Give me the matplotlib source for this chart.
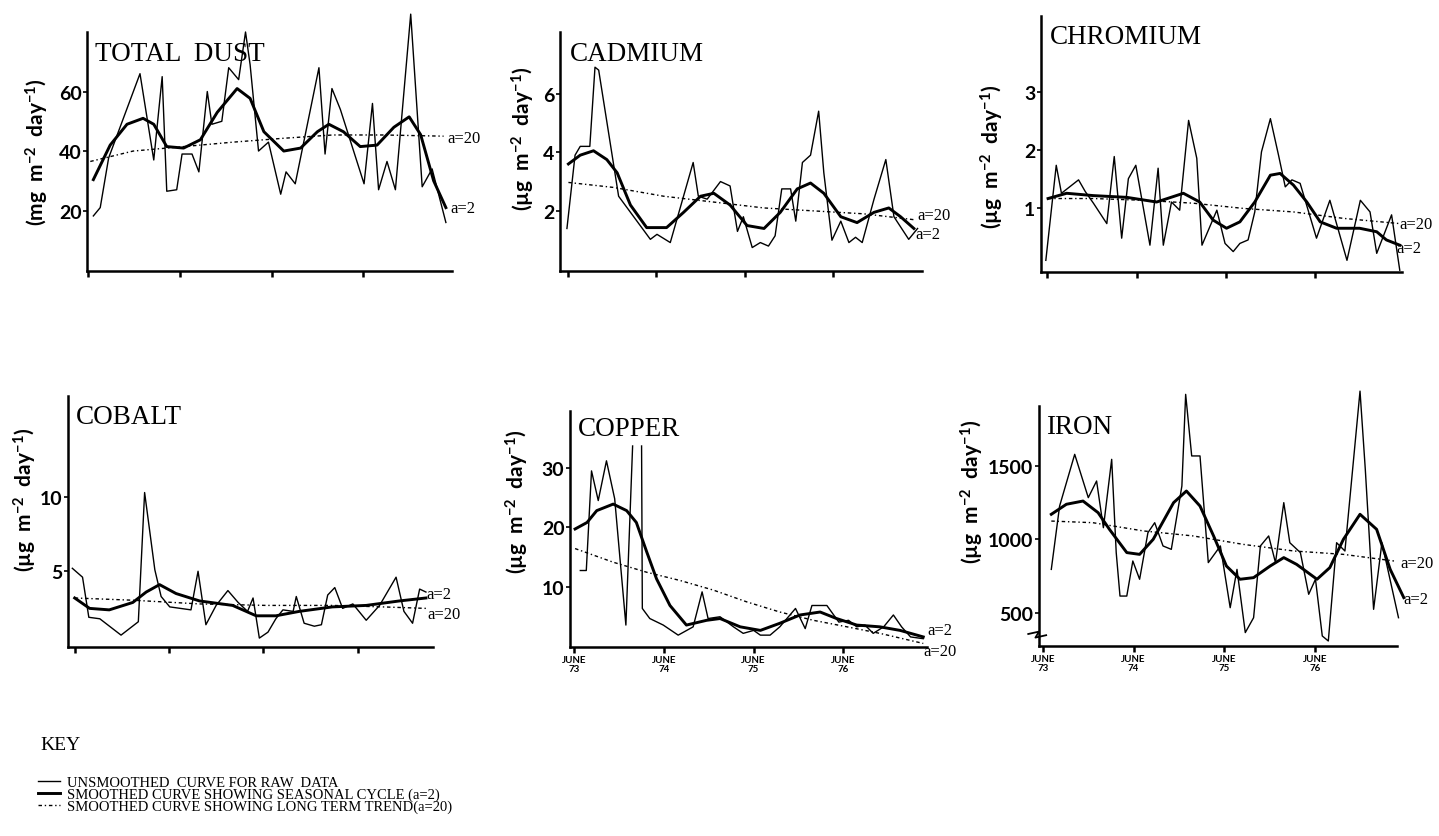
import numpy as np
import matplotlib
matplotlib.use("Agg")
import matplotlib.pyplot as plt
from matplotlib.lines import Line2D

plt.rcParams['font.family'] = ['Lato', 'DejaVu Sans']
plt.rcParams['mathtext.fontset'] = 'custom'
plt.rcParams['mathtext.rm'] = 'Lato:bold'
plt.rcParams['mathtext.it'] = 'Lato:bold'
plt.rcParams['mathtext.bf'] = 'Lato:bold'

# months after June 1973
# ---- TOTAL DUST (mg m-2 day-1)
dust_raw_m = [0.7, 1.6, 2.7, 6.8, 8.6, 9.7, 10.3, 11.6, 12.3, 13.6, 14.5, 15.6, 16.2, 17.5,
              18.4, 19.7, 20.6, 21.2, 22.3, 23.6, 25.2, 25.9, 27.1, 30.2, 31.0, 31.9, 33.0,
              36.1, 37.2, 38.0, 39.1, 40.2, 42.2, 43.7, 45.0, 46.8]
dust_raw = [18.2, 21, 37.7, 66, 37, 65, 26.5, 27, 39, 39, 33, 60, 49, 50,
            68, 64, 80, 69, 40, 43, 25.5, 33, 29, 68, 39, 61, 54,
            29, 56, 27, 36.5, 27, 86, 28, 34, 16]
dust_a2_m = [0.7, 2.9, 5.1, 7.2, 8.6, 10.3, 12.5, 14.7, 16.9, 19.5, 21.2, 23.0, 25.6, 27.8,
             30.0, 31.5, 33.4, 35.6, 37.8, 40.0, 42.0, 43.5, 45.2, 46.8]
dust_a2 = [30.4, 42, 49, 51, 49, 41.5, 41, 43.8, 53, 61, 57.7, 46.5, 40, 41,
           46.5, 49, 46.5, 41.5, 42, 48, 51.5, 45.5, 30, 21]
dust_a20_m = [0.3, 5.9, 12.5, 19.0, 25.6, 32.0, 38.7, 46.5]
dust_a20 = [36.5, 40, 41.5, 43, 44.3, 45.4, 45.4, 45]

# ---- CADMIUM (ug m-2 day-1)
cd_raw_m = [-0.1, 1.0, 1.7, 3.0, 3.7, 4.2, 6.9, 11.2, 12.1, 13.9, 17.0, 17.7, 18.9, 20.7,
            22.0, 23.0, 23.8, 25.0, 26.1, 27.2, 28.1, 29.0, 30.2, 30.9, 31.8, 32.9, 34.0,
            34.7, 35.8, 37.0, 38.1, 39.0, 39.9, 41.5, 43.1, 44.2, 46.2, 47.4]
cd_raw = [1.4, 3.9, 4.2, 4.2, 6.9, 6.8, 2.5, 1.03, 1.2, 0.92, 3.65, 2.5, 2.4, 3.0,
          2.85, 1.3, 1.8, 0.75, 0.92, 0.8, 1.15, 2.75, 2.75, 1.65, 3.65, 3.9, 5.4,
          3.3, 1.0, 1.65, 0.92, 1.1, 0.92, 2.4, 3.75, 1.8, 1.03, 1.4]
cd_a2_m = [0.1, 1.7, 3.5, 5.3, 6.7, 8.5, 10.7, 13.4, 15.7, 18.0, 19.8, 22.0, 24.3, 26.6,
           28.8, 31.1, 32.9, 34.7, 37.0, 39.2, 41.5, 43.5, 45.1, 46.9]
cd_a2 = [3.6, 3.9, 4.05, 3.75, 3.3, 2.2, 1.43, 1.43, 1.95, 2.5, 2.6, 2.2, 1.5, 1.4,
         1.95, 2.75, 2.95, 2.6, 1.8, 1.6, 1.95, 2.1, 1.8, 1.4]
cd_a20_m = [0.1, 6.2, 13.0, 19.8, 26.6, 33.3, 40.1, 46.9]
cd_a20 = [2.97, 2.8, 2.5, 2.3, 2.1, 2.0, 1.9, 1.7]

# ---- CHROMIUM
cr_raw_m = [-0.2, 1.2, 1.9, 4.2, 5.1, 6.2, 8.0, 9.0, 10.0, 10.9, 11.9, 13.8, 14.9, 15.6,
            16.7, 17.8, 19.0, 20.1, 20.8, 22.8, 23.9, 25.0, 25.9, 27.0, 27.9, 28.8, 30.0,
            31.1, 32.0, 32.9, 34.0, 36.2, 38.0, 40.3, 42.1, 43.4, 44.3, 46.3, 47.4]
cr_raw = [0.11, 1.74, 1.26, 1.49, 1.29, 1.09, 0.74, 1.89, 0.49, 1.51, 1.74, 0.37, 1.69, 0.37,
          1.11, 0.97, 2.51, 1.86, 0.37, 0.97, 0.4, 0.26, 0.4, 0.46, 0.94, 1.97, 2.54,
          1.91, 1.37, 1.49, 1.43, 0.49, 1.14, 0.11, 1.14, 0.94, 0.23, 0.89, -0.06]
cr_a2_m = [0.1, 2.6, 6.2, 10.7, 14.7, 18.3, 20.5, 22.3, 24.1, 25.9, 27.9, 30.0, 31.3, 33.1,
           34.9, 36.7, 38.9, 42.0, 44.3, 45.6, 47.4]
cr_a2 = [1.17, 1.26, 1.22, 1.19, 1.11, 1.26, 1.11, 0.8, 0.66, 0.77, 1.11, 1.57, 1.6, 1.4,
         1.11, 0.77, 0.66, 0.66, 0.6, 0.46, 0.37]
cr_a20_m = [0.1, 6.2, 12.9, 19.6, 26.4, 33.1, 39.8, 47.4]
cr_a20 = [1.17, 1.17, 1.14, 1.09, 1.0, 0.94, 0.83, 0.74]

# ---- COBALT
co_raw_m = [-0.3, 1.0, 1.8, 3.2, 5.9, 8.1, 8.9, 10.2, 11.0, 12.1, 14.8, 15.7, 16.7, 18.0,
            19.5, 20.8, 22.0, 22.7, 23.5, 24.6, 25.6, 26.5, 27.8, 28.2, 29.2, 30.5, 31.4,
            32.2, 33.1, 34.1, 35.4, 37.1, 38.8, 40.9, 41.9, 43.0, 43.9, 44.7]
co_raw = [5.2, 4.6, 1.9, 1.8, 0.7, 1.6, 10.3, 5.1, 3.3, 2.6, 2.4, 5.0, 1.4, 2.7,
          3.7, 2.9, 2.3, 3.2, 0.5, 0.9, 1.8, 2.4, 2.3, 3.3, 1.5, 1.3, 1.4,
          3.4, 3.9, 2.5, 2.8, 1.7, 2.7, 4.6, 2.3, 1.5, 3.8, 3.6]
co_a2_m = [0.0, 1.9, 4.4, 7.4, 9.1, 10.8, 12.9, 15.9, 20.1, 23.1, 25.6, 28.6, 32.8, 37.1,
           41.3, 44.7]
co_a2 = [3.2, 2.5, 2.4, 2.9, 3.6, 4.1, 3.5, 3.0, 2.7, 2.0, 2.0, 2.3, 2.6, 2.7,
         3.0, 3.2]
co_a20_m = [0.0, 7.4, 15.9, 24.4, 32.8, 39.2, 44.7]
co_a20 = [3.2, 3.05, 2.8, 2.7, 2.7, 2.6, 2.5]

# ---- COPPER (two spikes run off the scale)
cu_raw_m = [0.8, 1.6, 2.3, 3.2, 4.3, 5.4, 6.9, 7.8, 8.4, 9.0, 9.1, 10.1, 11.9, 13.9,
            15.9, 17.1, 17.9, 19.5, 21.3, 22.6, 24.0, 24.9, 26.2, 27.5, 29.6, 30.9, 31.8,
            33.8, 35.4, 36.7, 37.8, 38.9, 40.0, 41.4, 42.7, 43.8, 45.0, 46.7]
cu_raw = [12.7, 12.7, 29.5, 24.5, 31.2, 24.8, 3.5, 33.7, np.nan, 33.7, 6.3, 4.6, 3.5, 1.8,
          3.2, 9.1, 4.6, 4.9, 3.2, 2.1, 2.6, 1.8, 1.8, 3.2, 6.3, 2.9, 6.8,
          6.8, 4.0, 4.3, 3.2, 3.5, 2.1, 3.2, 5.2, 3.2, 1.5, 1.2]
cu_a2_m = [0.1, 1.7, 3.0, 5.2, 7.0, 8.3, 9.7, 11.0, 12.8, 15.0, 17.7, 19.5, 22.2, 24.9,
           27.5, 30.2, 32.9, 35.1, 37.8, 40.9, 43.6, 46.7]
cu_a2 = [19.7, 20.8, 22.8, 23.9, 22.8, 20.8, 15.8, 11.3, 6.8, 3.5, 4.3, 4.6, 3.2, 2.6,
         3.8, 5.2, 5.7, 4.6, 3.5, 3.2, 2.6, 1.5]
cu_a20_m = [0.1, 5.2, 9.7, 14.2, 18.6, 23.1, 27.5, 32.0, 36.5, 40.9, 46.7]
cu_a20 = [16.4, 14.1, 12.4, 11.0, 9.4, 7.4, 5.7, 4.3, 3.2, 2.1, 0.4]

# ---- IRON
fe_raw_m = [1.1, 2.2, 4.2, 6.0, 7.1, 8.0, 9.1, 9.7, 10.2, 11.1, 11.9, 12.8, 13.9, 14.8,
            15.9, 17.0, 18.4, 18.9, 19.7, 20.8, 21.9, 23.5, 24.8, 25.7, 26.8, 27.9, 28.8,
            29.9, 30.8, 31.9, 32.7, 34.1, 35.2, 36.1, 37.0, 37.8, 38.9, 40.0, 42.0, 42.7,
            43.8, 44.9, 47.1]
fe_raw = [796, 1226, 1577, 1283, 1396, 1079, 1543, 910, 615, 615, 853, 729, 1045, 1113,
          955, 932, 1362, 1984, 1566, 1566, 842, 955, 536, 796, 367, 468, 955,
          1023, 842, 1249, 977, 910, 627, 729, 344, 310, 977, 921, 2006, 1475,
          525, 977, 468]
fe_a2_m = [1.1, 3.1, 5.3, 7.3, 8.8, 11.1, 12.8, 14.6, 17.3, 19.0, 20.8, 22.6, 24.3, 26.1,
           27.9, 30.1, 31.9, 33.6, 36.3, 38.0, 39.8, 42.0, 44.2, 46.0, 47.8]
fe_a2 = [1170, 1238, 1260, 1181, 1068, 910, 898, 1000, 1249, 1328, 1226, 1023, 819, 729,
         740, 819, 876, 830, 729, 808, 1000, 1170, 1068, 796, 604]
fe_a20_m = [1.1, 6.6, 13.3, 19.9, 26.5, 33.2, 39.8, 46.5]
fe_a20 = [1124, 1113, 1057, 1023, 966, 921, 898, 853]

year_ticks = [0, 12, 24, 36]
year_labels = ['JUNE\n73', 'JUNE\n74', 'JUNE\n75', 'JUNE\n76']

ug = '(µg  m$^{-2}$  day$^{-1}$)'
panels = [
    dict(title='TOTAL  DUST', ylabel='(mg  m$^{-2}$  day$^{-1}$)',
         s=(dust_raw_m, dust_raw, dust_a2_m, dust_a2, dust_a20_m, dust_a20),
         yticks=[20, 40, 60], xlab=False, rect=(87, 452, 33, 272),
         xlim=(-0.13, 47.6), ylim=(-0.3, 80), ylc=(-0.137, 0.50), tc=(0.022, 0.962),
         l20=(47.0, 44.3), l2=(47.4, 21)),
    dict(title='CADMIUM', ylabel=ug,
         s=(cd_raw_m, cd_raw, cd_a2_m, cd_a2, cd_a20_m, cd_a20),
         yticks=[2, 4, 6], xlab=False, rect=(560, 922, 33, 272),
         xlim=(-1.04, 48), ylim=(-0.05, 8.1), ylc=(-0.102, 0.556), tc=(0.028, 0.962),
         l20=(47.4, 1.85), l2=(47.1, 1.2)),
    dict(title='CHROMIUM', ylabel=ug,
         s=(cr_raw_m, cr_raw, cr_a2_m, cr_a2, cr_a20_m, cr_a20),
         yticks=[1, 2, 3], xlab=False, rect=(1041, 1402, 17, 273),
         xlim=(-0.85, 47.7), ylim=(-0.09, 4.3), ylc=(-0.136, 0.453), tc=(0.025, 0.968),
         l20=(47.4, 0.73), l2=(47.0, 0.32)),
    dict(title='COBALT', ylabel=ug,
         s=(co_raw_m, co_raw, co_a2_m, co_a2, co_a20_m, co_a20),
         yticks=[5, 10], xlab=False, rect=(68, 433, 397, 648),
         xlim=(-0.85, 45.6), ylim=(-0.1, 16.8), ylc=(-0.118, 0.59), tc=(0.022, 0.968),
         l20=(44.9, 2.1), l2=(44.7, 3.5)),
    dict(title='COPPER', ylabel=ug,
         s=(cu_raw_m, cu_raw, cu_a2_m, cu_a2, cu_a20_m, cu_a20),
         yticks=[10, 20, 30], xlab=True, rect=(570, 927, 412, 648),
         xlim=(-0.58, 47.2), ylim=(-0.2, 39.6), ylc=(-0.146, 0.62), tc=(0.022, 0.978),
         l20=(46.7, -0.8), l2=(47.2, 2.6)),
    dict(title='IRON', ylabel=ug,
         s=(fe_raw_m, fe_raw, fe_a2_m, fe_a2, fe_a20_m, fe_a20),
         yticks=[500, 1000, 1500], xlab=True, rect=(1039, 1397, 407, 647),
         xlim=(-0.53, 46.9), ylim=(276, 1905), ylc=(-0.187, 0.646), tc=(0.02, 0.966),
         l20=(47.3, 842), l2=(47.8, 593)),
]

W, H = 1439, 837
fig = plt.figure(figsize=(W / 100, H / 100), dpi=100)

raw_kw = dict(color='black', lw=1.0, clip_on=False)
a2_kw = dict(color='black', lw=2.1, clip_on=False, solid_joinstyle='round')
a20_kw = dict(color='black', lw=1.0, ls=(0, (2.5, 2, 1, 2)), clip_on=False)
serif = ['Liberation Serif', 'DejaVu Serif']

for p in panels:
    l, r, t, b = p['rect']
    ax = fig.add_axes([l / W, 1 - b / H, (r - l) / W, (b - t) / H])
    rm, rv, am, av, tm, tv = p['s']
    ax.plot(rm, rv, **raw_kw)
    ax.plot(am, av, **a2_kw)
    ax.plot(tm, tv, **a20_kw)

    ax.set_xlim(*p['xlim'])
    ax.set_ylim(*p['ylim'])
    for side in ('top', 'right'):
        ax.spines[side].set_visible(False)
    for side in ('left', 'bottom'):
        ax.spines[side].set_linewidth(1.8)
    ax.set_xticks(year_ticks)
    ax.set_xticklabels(year_labels if p['xlab'] else [])
    ax.set_yticks(p['yticks'])
    ax.tick_params(axis='x', length=4, width=1.8, pad=2, labelsize=7)
    ax.tick_params(axis='y', length=3, width=1.2, pad=1, labelsize=14)
    for lab in ax.get_yticklabels():
        lab.set_fontweight('bold')
    for lab in ax.get_xticklabels():
        lab.set_fontweight('bold')
        lab.set_linespacing(0.9)

    ax.set_ylabel(p['ylabel'], fontsize=15, fontweight='bold', va='center')
    ax.yaxis.set_label_coords(*p['ylc'])
    ax.text(p['tc'][0], p['tc'][1], p['title'], transform=ax.transAxes,
            ha='left', va='top', fontsize=19.5, family=serif)
    ax.text(p['l20'][0], p['l20'][1], 'a=20', ha='left', va='center',
            fontsize=12, family=serif, clip_on=False)
    ax.text(p['l2'][0], p['l2'][1], 'a=2', ha='left', va='center',
            fontsize=12, family=serif, clip_on=False)

    if p['title'] == 'IRON':
        # broken-axis mark near the bottom of the iron scale
        ax.plot([-0.03, 0.0, -0.01, 0.02], [0.05, 0.06, 0.035, 0.045],
                transform=ax.transAxes, color='black', lw=1.3, clip_on=False)

fig.text(40 / W, 1 - 746 / H, 'KEY', fontsize=14, family=serif, va='center')
handles = [Line2D([], [], **raw_kw), Line2D([], [], **a2_kw), Line2D([], [], **a20_kw)]
labels = ['UNSMOOTHED  CURVE FOR RAW  DATA',
          'SMOOTHED CURVE SHOWING SEASONAL CYCLE (a=2)',
          'SMOOTHED CURVE SHOWING LONG TERM TREND(a=20)']
fig.legend(handles, labels, loc='upper left', bbox_to_anchor=(38 / W, 1 - 777 / H),
           frameon=False, prop=dict(family=serif, size=10.5), handlelength=1.5,
           handletextpad=0.5, labelspacing=-0.1, borderpad=0, borderaxespad=0)

fig.savefig('out.png', dpi=100)
